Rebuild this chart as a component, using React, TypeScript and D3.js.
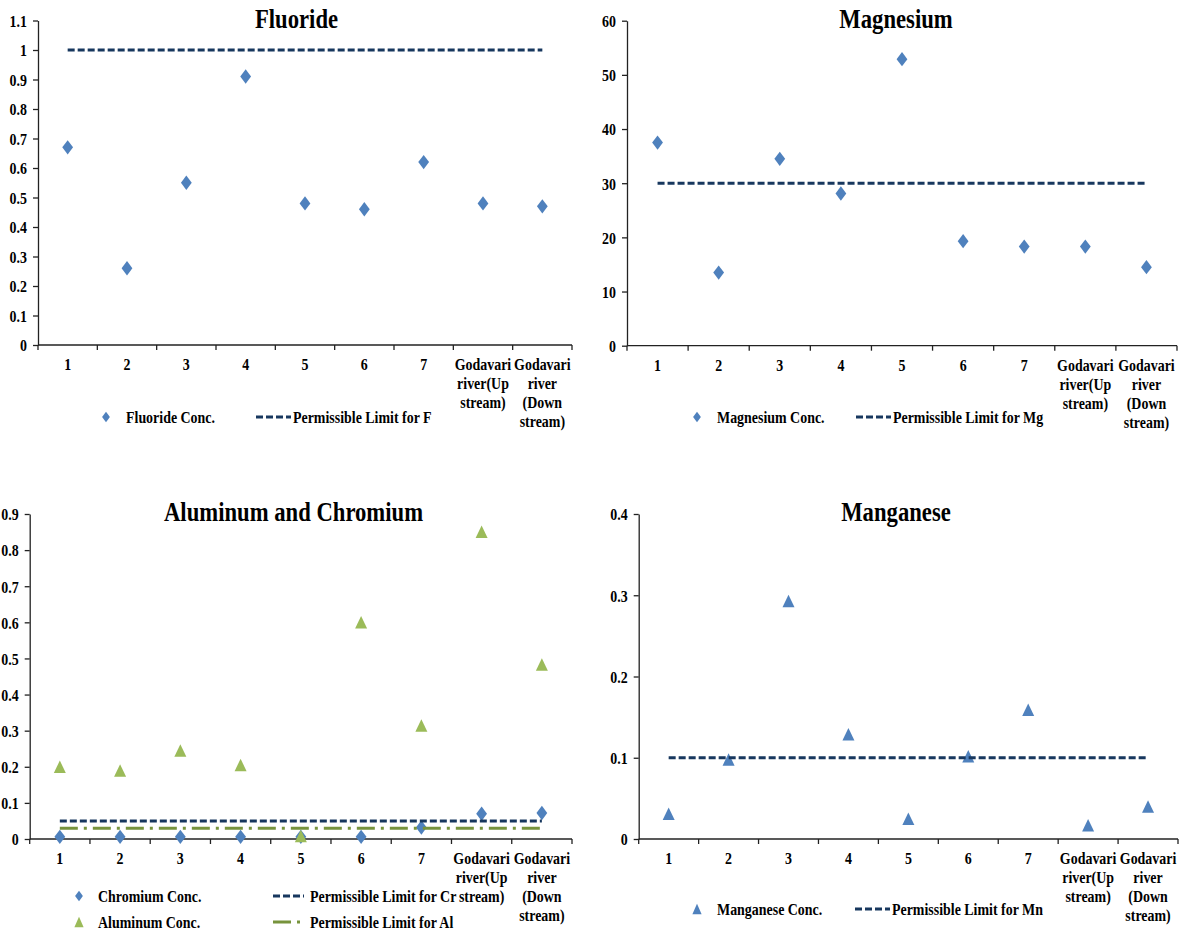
import React, { useEffect, useRef } from "react";
import * as d3 from "d3";

// ---------- data ----------
const categories = ["1", "2", "3", "4", "5", "6", "7", "Godavari river(Up stream)", "Godavari river (Down stream)"];
const categoryLines = [["1"], ["2"], ["3"], ["4"], ["5"], ["6"], ["7"], ["Godavari", "river(Up", "stream)"], ["Godavari", "river", "(Down", "stream)"]];

const fluorideConc = [0.67, 0.26, 0.55, 0.91, 0.48, 0.46, 0.62, 0.48, 0.47];
const fluorideLimit = 1;
const fluorideTicks = [0, 0.1, 0.2, 0.3, 0.4, 0.5, 0.6, 0.7, 0.8, 0.9, 1, 1.1];

const magnesiumConc = [37.5, 13.5, 34.5, 28.1, 52.9, 19.3, 18.3, 18.3, 14.5];
const magnesiumLimit = 30;
const magnesiumTicks = [0, 10, 20, 30, 40, 50, 60];

const chromiumConc = [0.006, 0.006, 0.006, 0.006, 0.006, 0.006, 0.032, 0.07, 0.072];
const aluminumConc = [0.2, 0.19, 0.245, 0.205, 0.008, 0.6, 0.314, 0.851, 0.483];
const chromiumLimit = 0.05;
const aluminumLimit = 0.03;
const alCrTicks = [0, 0.1, 0.2, 0.3, 0.4, 0.5, 0.6, 0.7, 0.8, 0.9];

const manganeseConc = [0.031, 0.098, 0.293, 0.129, 0.025, 0.102, 0.159, 0.017, 0.04];
const manganeseLimit = 0.1;
const manganeseTicks = [0, 0.1, 0.2, 0.3, 0.4];

// ---------- styles ----------
const SX = 0.82;
const TSX = 0.84;
const FS = 17;
const TFS = 27;
const FONT = "'Liberation Serif','Times New Roman',Times,serif";
const BLUE = "#4F81BD";
const GREEN = "#9BBB59";
const NAVY = "#17375E";
const OLIVE = "#77933C";
const AXIS = "#222";
const DASH = "7,3";
const DASHDOT = "18,6,3,6";

function diamond(hw: number, hh: number) {
  return {
    draw(ctx: any) {
      ctx.moveTo(0, -hh);
      ctx.lineTo(hw, 0);
      ctx.lineTo(0, hh);
      ctx.lineTo(-hw, 0);
      ctx.closePath();
    },
  };
}
function triangle(hw: number, h: number) {
  return {
    draw(ctx: any) {
      ctx.moveTo(0, -h / 2);
      ctx.lineTo(hw, h / 2);
      ctx.lineTo(-hw, h / 2);
      ctx.closePath();
    },
  };
}
const plotDiamond = diamond(5.4, 7.2);
const legendDiamond = diamond(3.9, 5.2);
const plotTriangle = triangle(6, 12.5);
const legendTriangle = triangle(4.6, 10.5);

type LegendItem =
  | { kind: "marker"; type: any; color: string; x: number; y: number; tx: number; label: string }
  | { kind: "line"; color: string; dash: string; x1: number; x2: number; y: number; tx: number; label: string };

type Panel = {
  title: string;
  titleX: number;
  titleY: number;
  x0: number;
  x1: number;
  yTop: number;
  yBottom: number;
  yMax: number;
  ticks: number[];
  layers: any[];
  legend: LegendItem[];
};

const panels: Panel[] = [
  {
    title: "Fluoride",
    titleX: 296.5,
    titleY: 28,
    x0: 38,
    x1: 572,
    yTop: 20.5,
    yBottom: 345,
    yMax: 1.1,
    ticks: fluorideTicks,
    layers: [
      { kind: "series", values: fluorideConc, type: plotDiamond, color: BLUE, name: "Fluoride Conc." },
      { kind: "limit", value: fluorideLimit, color: NAVY, dash: DASH, name: "Permissible Limit for F" },
    ],
    legend: [
      { kind: "marker", type: legendDiamond, color: BLUE, x: 106, y: 417, tx: 126, label: "Fluoride Conc." },
      { kind: "line", color: NAVY, dash: DASH, x1: 256, x2: 291, y: 417, tx: 293, label: "Permissible Limit for F" },
    ],
  },
  {
    title: "Magnesium",
    titleX: 896,
    titleY: 28,
    x0: 627,
    x1: 1177,
    yTop: 20.7,
    yBottom: 345.7,
    yMax: 60,
    ticks: magnesiumTicks,
    layers: [
      { kind: "series", values: magnesiumConc, type: plotDiamond, color: BLUE, name: "Magnesium Conc." },
      { kind: "limit", value: magnesiumLimit, color: NAVY, dash: DASH, name: "Permissible Limit for Mg" },
    ],
    legend: [
      { kind: "marker", type: legendDiamond, color: BLUE, x: 697, y: 417, tx: 717, label: "Magnesium Conc." },
      { kind: "line", color: NAVY, dash: DASH, x1: 856, x2: 891, y: 417, tx: 893, label: "Permissible Limit for Mg" },
    ],
  },
  {
    title: "Aluminum and Chromium",
    titleX: 293.5,
    titleY: 520.5,
    x0: 29.7,
    x1: 572,
    yTop: 514,
    yBottom: 839,
    yMax: 0.9,
    ticks: alCrTicks,
    layers: [
      { kind: "series", values: chromiumConc, type: plotDiamond, color: BLUE, name: "Chromium Conc." },
      { kind: "limit", value: chromiumLimit, color: NAVY, dash: DASH, name: "Permissible Limit for Cr" },
      { kind: "series", values: aluminumConc, type: plotTriangle, color: GREEN, name: "Aluminum Conc." },
      { kind: "limit", value: aluminumLimit, color: OLIVE, dash: DASHDOT, name: "Permissible Limit for Al" },
    ],
    legend: [
      { kind: "marker", type: legendDiamond, color: BLUE, x: 79, y: 896, tx: 98, label: "Chromium Conc." },
      { kind: "line", color: NAVY, dash: DASH, x1: 273, x2: 304, y: 896, tx: 310, label: "Permissible Limit for Cr" },
      { kind: "marker", type: legendTriangle, color: GREEN, x: 79, y: 922, tx: 98, label: "Aluminum Conc." },
      { kind: "line", color: OLIVE, dash: DASHDOT, x1: 273, x2: 304, y: 922, tx: 310, label: "Permissible Limit for Al" },
    ],
  },
  {
    title: "Manganese",
    titleX: 896,
    titleY: 520.5,
    x0: 638.7,
    x1: 1178,
    yTop: 514,
    yBottom: 839,
    yMax: 0.4,
    ticks: manganeseTicks,
    layers: [
      { kind: "series", values: manganeseConc, type: plotTriangle, color: BLUE, name: "Manganese Conc." },
      { kind: "limit", value: manganeseLimit, color: NAVY, dash: DASH, name: "Permissible Limit for Mn" },
    ],
    legend: [
      { kind: "marker", type: legendTriangle, color: BLUE, x: 697, y: 909, tx: 717, label: "Manganese Conc." },
      { kind: "line", color: NAVY, dash: DASH, x1: 855, x2: 890, y: 909, tx: 892, label: "Permissible Limit for Mn" },
    ],
  },
];

function styleText(sel: any, size: number) {
  return sel
    .attr("font-family", FONT)
    .attr("font-weight", "bold")
    .attr("font-size", size)
    .attr("fill", "#000");
}

function drawPanel(root: any, p: Panel) {
  const g = root.append("g");
  const x = d3.scaleBand<string>().domain(categories).range([p.x0, p.x1]);
  const y = d3.scaleLinear().domain([0, p.yMax]).range([p.yBottom, p.yTop]);
  const cx = (c: string) => (x(c) as number) + x.bandwidth() / 2;

  // title
  styleText(
    g.append("text")
      .attr("transform", `translate(${p.titleX},${p.titleY}) scale(${TSX},1)`)
      .attr("text-anchor", "middle")
      .text(p.title),
    TFS
  );

  // y axis
  const ya = g
    .append("g")
    .attr("transform", `translate(${p.x0},0)`)
    .call(
      d3.axisLeft(y)
        .tickValues(p.ticks)
        .tickSize(5)
        .tickSizeOuter(0)
        .tickFormat((d: any) => String(d))
    );
  ya.attr("font-family", FONT).attr("font-size", FS);
  ya.select(".domain").attr("stroke", AXIS).attr("stroke-width", 1.3);
  ya.selectAll(".tick line").attr("stroke", AXIS).attr("stroke-width", 1.3);
  styleText(
    ya.selectAll(".tick text")
      .attr("x", null)
      .attr("dy", null)
      .attr("transform", `translate(-11,5.8) scale(${SX},1)`),
    FS
  );

  // x axis (category boundaries)
  const xa = g.append("g");
  xa.append("line")
    .attr("x1", p.x0)
    .attr("x2", p.x1)
    .attr("y1", p.yBottom)
    .attr("y2", p.yBottom)
    .attr("stroke", AXIS)
    .attr("stroke-width", 1.3);
  const bounds = [...categories.map((c) => x(c) as number), p.x1];
  xa.selectAll("line.tk")
    .data(bounds)
    .join("line")
    .attr("class", "tk")
    .attr("x1", (d: number) => d)
    .attr("x2", (d: number) => d)
    .attr("y1", p.yBottom)
    .attr("y2", p.yBottom + 5)
    .attr("stroke", AXIS)
    .attr("stroke-width", 1.3);
  const labels = xa
    .selectAll("text.xl")
    .data(categories)
    .join("text")
    .attr("class", "xl")
    .attr("text-anchor", "middle")
    .attr("transform", (c: string) => `translate(${cx(c)},${p.yBottom + 25}) scale(${SX},1)`);
  styleText(labels, FS);
  labels.each(function (this: any, c: string, i: number) {
    d3.select(this)
      .selectAll("tspan")
      .data(categoryLines[i])
      .join("tspan")
      .attr("x", 0)
      .attr("dy", (_: any, j: number) => (j === 0 ? 0 : 19))
      .text((t: string) => t);
  });

  // data layers
  const line = d3.line<string>().x((c) => cx(c));
  p.layers.forEach((layer: any) => {
    if (layer.kind === "limit") {
      g.append("path")
        .attr("d", line.y(() => y(layer.value))(categories))
        .attr("fill", "none")
        .attr("stroke", layer.color)
        .attr("stroke-width", 3)
        .attr("stroke-dasharray", layer.dash);
    } else {
      const sym = d3.symbol().type(layer.type)();
      g.append("g")
        .selectAll("path")
        .data(layer.values)
        .join("path")
        .attr("transform", (d: number, i: number) => `translate(${cx(categories[i])},${y(d)})`)
        .attr("d", sym)
        .attr("fill", layer.color);
    }
  });

  // legend
  const lg = g.append("g");
  p.legend.forEach((it) => {
    if (it.kind === "marker") {
      lg.append("path")
        .attr("transform", `translate(${it.x},${it.y})`)
        .attr("d", d3.symbol().type(it.type)())
        .attr("fill", it.color);
    } else {
      lg.append("line")
        .attr("x1", it.x1)
        .attr("x2", it.x2)
        .attr("y1", it.y)
        .attr("y2", it.y)
        .attr("stroke", it.color)
        .attr("stroke-width", 3)
        .attr("stroke-dasharray", it.dash);
    }
    styleText(
      lg.append("text")
        .attr("transform", `translate(${it.tx},${it.y + 5.8}) scale(${SX},1)`)
        .text(it.label),
      FS
    );
  });
}

export default function App() {
  const ref = useRef<SVGSVGElement | null>(null);
  useEffect(() => {
    const svg = d3.select(ref.current);
    svg.selectAll("*").remove();
    const root = svg.append("g");
    panels.forEach((p) => drawPanel(root, p));
  }, []);
  return (
    <svg
      ref={ref}
      width={1184}
      height={934}
      style={{ position: "absolute", left: 0, top: 0, background: "#fff", display: "block" }}
    />
  );
}
